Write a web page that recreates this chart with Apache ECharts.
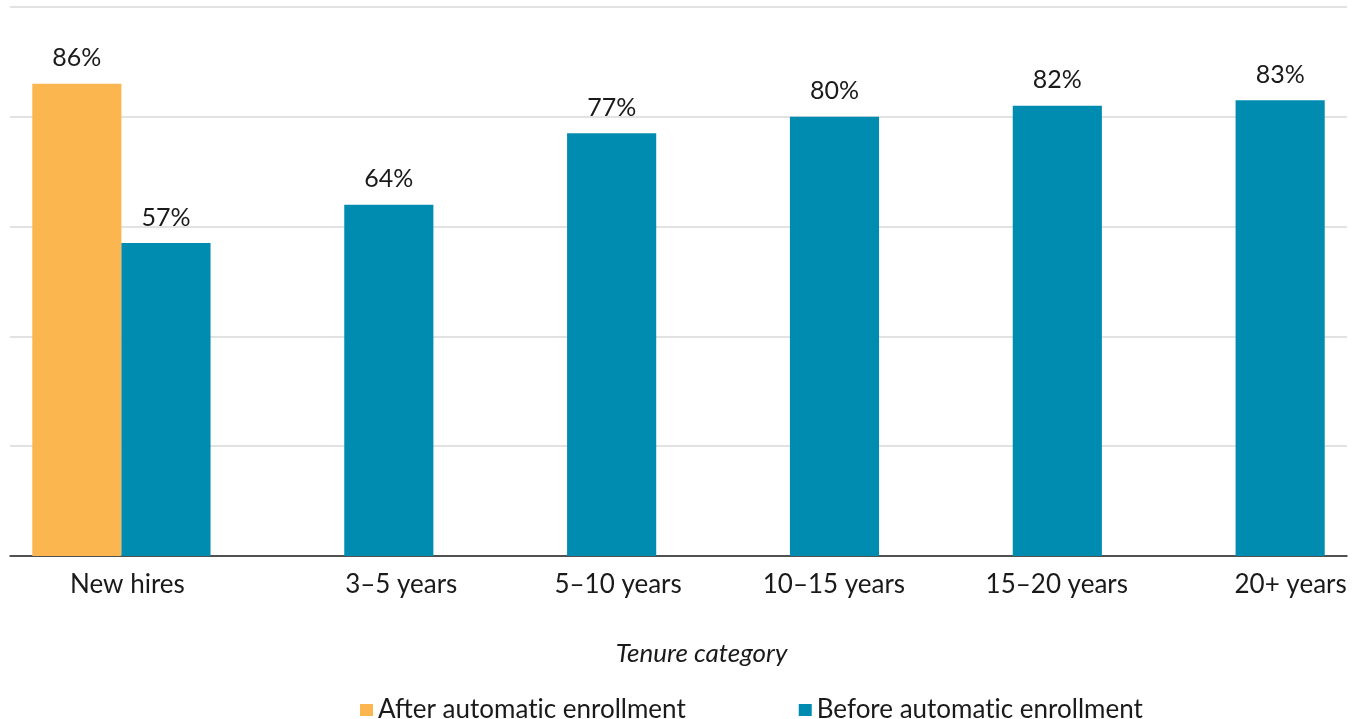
<!DOCTYPE html>
<html>
<head>
<meta charset="utf-8">
<title>Enrollment by tenure</title>
<script src="https://cdn.jsdelivr.net/npm/echarts@6/dist/echarts.min.js"></script>
<style>
  html, body { margin: 0; padding: 0; background: #fff; }
  #chart { width: 1358px; height: 719px; }
</style>
</head>
<body>
<div id="chart"></div>
<script>
// data
var categories = ['New hires', '3\u20135 years', '5\u201310 years', '10\u201315 years', '15\u201320 years', '20+ years']
var afterAuto = [86, '-', '-', '-', '-', '-']
var beforeAuto = [57, 64, 77, 80, 82, 83]
var yTicks = [0, 20, 40, 60, 80, 100]

// labels sit a bit right of the category centre in the original
var labelShift = [6, 57, 51, 44, 44, 55]

var FONT = 'Lato, "Noto Sans", sans-serif'
var TEXT = '#1a1a1a'

var rich = {}
labelShift.forEach(function (s, i) {
  rich['c' + i] = {
    fontFamily: FONT,
    fontSize: 26,
    color: TEXT,
    padding: [0, 0, 0, s * 2]
  }
})

// Lato turns "ti" into a ligature, break it up
function noLig(s) {
  return s.replace(/ti/g, 't\u200Ci')
}

var barLabel = {
  show: true,
  position: 'top',
  distance: 13,
  formatter: '{c}%',
  fontFamily: FONT,
  fontSize: 25,
  color: TEXT
}

var chart = echarts.init(document.getElementById('chart'))
chart.setOption({
  animation: false,
  grid: {
    left: 10,
    right: 11,
    top: 7,
    bottom: 163
  },
  legend: {
    left: 355,
    top: 692,
    icon: 'rect',
    itemWidth: 13,
    itemHeight: 12,
    itemGap: 113,
    formatter: noLig,
    textStyle: {
      fontFamily: FONT,
      fontSize: 26,
      color: TEXT
    },
    data: ['After automatic enrollment', 'Before automatic enrollment']
  },
  xAxis: {
    type: 'category',
    data: categories,
    name: 'Tenure category',
    nameLocation: 'middle',
    nameGap: 85,
    nameTextStyle: {
      fontFamily: FONT,
      fontSize: 26,
      fontStyle: 'italic',
      color: TEXT,
      padding: [0, 0, 0, 46]
    },
    axisLine: {
      lineStyle: { color: '#222', width: 1.5 }
    },
    axisTick: { show: false },
    axisLabel: {
      margin: 16,
      formatter: function (v, i) {
        return '{c' + i + '|' + v + '}'
      },
      rich: rich
    }
  },
  yAxis: {
    type: 'value',
    min: yTicks[0],
    max: yTicks[yTicks.length - 1],
    interval: 20,
    axisLabel: { show: false },
    axisLine: { show: false },
    axisTick: { show: false },
    splitLine: {
      lineStyle: { color: '#d9d9d9', width: 1.5 }
    }
  },
  series: [{
    name: 'After automatic enrollment',
    type: 'bar',
    data: afterAuto,
    barWidth: '40%',
    barGap: '0%',
    itemStyle: { color: '#FCB64F' },
    label: barLabel
  }, {
    name: 'Before automatic enrollment',
    type: 'bar',
    data: beforeAuto,
    barWidth: '40%',
    itemStyle: { color: '#008CB0' },
    label: barLabel
  }]
})
</script>
</body>
</html>
